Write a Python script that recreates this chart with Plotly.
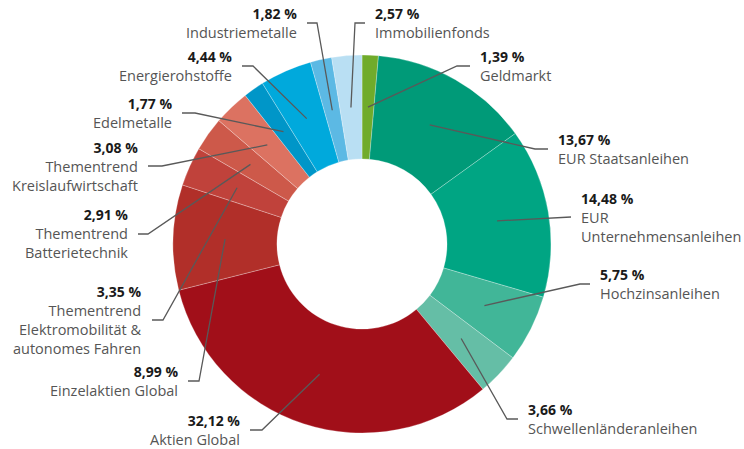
import math
import plotly.graph_objects as go

# ---- data ----
categories = [
    "Geldmarkt", "EUR Staatsanleihen", "EUR<br>Unternehmensanleihen", "Hochzinsanleihen",
    "Schwellenländeranleihen", "Aktien Global", "Einzelaktien Global",
    "Thementrend<br>Elektromobilität &<br>autonomes Fahren", "Thementrend<br>Batterietechnik",
    "Thementrend<br>Kreislaufwirtschaft", "Edelmetalle", "Energierohstoffe",
    "Industriemetalle", "Immobilienfonds",
]
values = [1.39, 13.67, 14.48, 5.75, 3.66, 32.12, 8.99, 3.35, 2.91, 3.08, 1.77, 4.44, 1.82, 2.57]
colors = [
    "#70ab2b", "#009a78", "#00a583", "#41b698", "#65bea6", "#a10f19", "#b12f29",
    "#c0423b", "#cd594a", "#dc7261", "#0096c8", "#00a9dc", "#5cb9e4", "#b9dff3",
]

# ---- layout (pixels) ----
W, H = 744, 449
CX, CY, R_OUT, HOLE = 362, 244, 189, 0.45
R_MID = R_OUT * (1 + HOLE) / 2
# per label: elbow point, end of horizontal segment, side of the text
label_layout = [
    ((457, 66), 470, "left"),
    ((535, 149), 548, "left"),
    ((571, 217), 571, "left"),
    ((580, 284), 590, "left"),
    ((507, 419), 518, "left"),
    ((262, 430), 250, "right"),
    ((199, 381), 188, "right"),
    ((163, 320), 152, "right"),
    ((148, 234), 138, "right"),
    ((162, 166), 148, "right"),
    ((195, 113), 182, "right"),
    ((253, 66), 242, "right"),
    ((317, 23), 307, "right"),
    ((355, 23), 365, "left"),
]
GAP = 8


def px(x):
    return x / W


def py(y):
    return 1 - y / H


fig = go.Figure()
fig.add_trace(go.Pie(
    labels=categories, values=values, sort=False, direction="clockwise", rotation=0,
    hole=HOLE, textinfo="none", hoverinfo="label+percent",
    marker=dict(colors=colors, line=dict(color="rgba(255,255,255,0.45)", width=0.6)),
    domain=dict(x=[px(CX - R_OUT), px(CX + R_OUT)], y=[py(CY + R_OUT), py(CY - R_OUT)]),
    showlegend=False,
))

total = sum(values)
cum = 0.0
shapes, annotations = [], []
for name, v, (elbow, hx, side) in zip(categories, values, label_layout):
    mid = (cum + v / 2) / total * 2 * math.pi
    cum += v
    ax = CX + R_MID * math.sin(mid)
    ay = CY - R_MID * math.cos(mid)
    ex, ey = elbow
    path = f"M {px(ax)},{py(ay)} L {px(ex)},{py(ey)} L {px(hx)},{py(ey)}"
    shapes.append(dict(type="path", path=path, xref="paper", yref="paper", layer="above",
                       line=dict(color="#595959", width=1.3)))
    pct = f"{v:.2f}".replace(".", ",") + " %"
    tx = hx + GAP if side == "left" else hx - GAP
    annotations.append(dict(
        x=px(tx), y=py(ey), xref="paper", yref="paper", showarrow=False,
        xanchor=side, yanchor="middle", align=side,
        text=f"<b><span style='font-size:14px'>{pct}</span></b><br>"
             f"<span style='color:#555555'>{name}</span>",
        font=dict(family="Open Sans, sans-serif", size=14.5, color="#1a1a1a"),
    ))

fig.update_layout(
    width=W, height=H, margin=dict(l=0, r=0, t=0, b=0),
    paper_bgcolor="white", plot_bgcolor="white",
    shapes=shapes, annotations=annotations,
)
fig.write_html("out.html", config={"displayModeBar": False},
               post_script="document.body.style.margin='0';")
